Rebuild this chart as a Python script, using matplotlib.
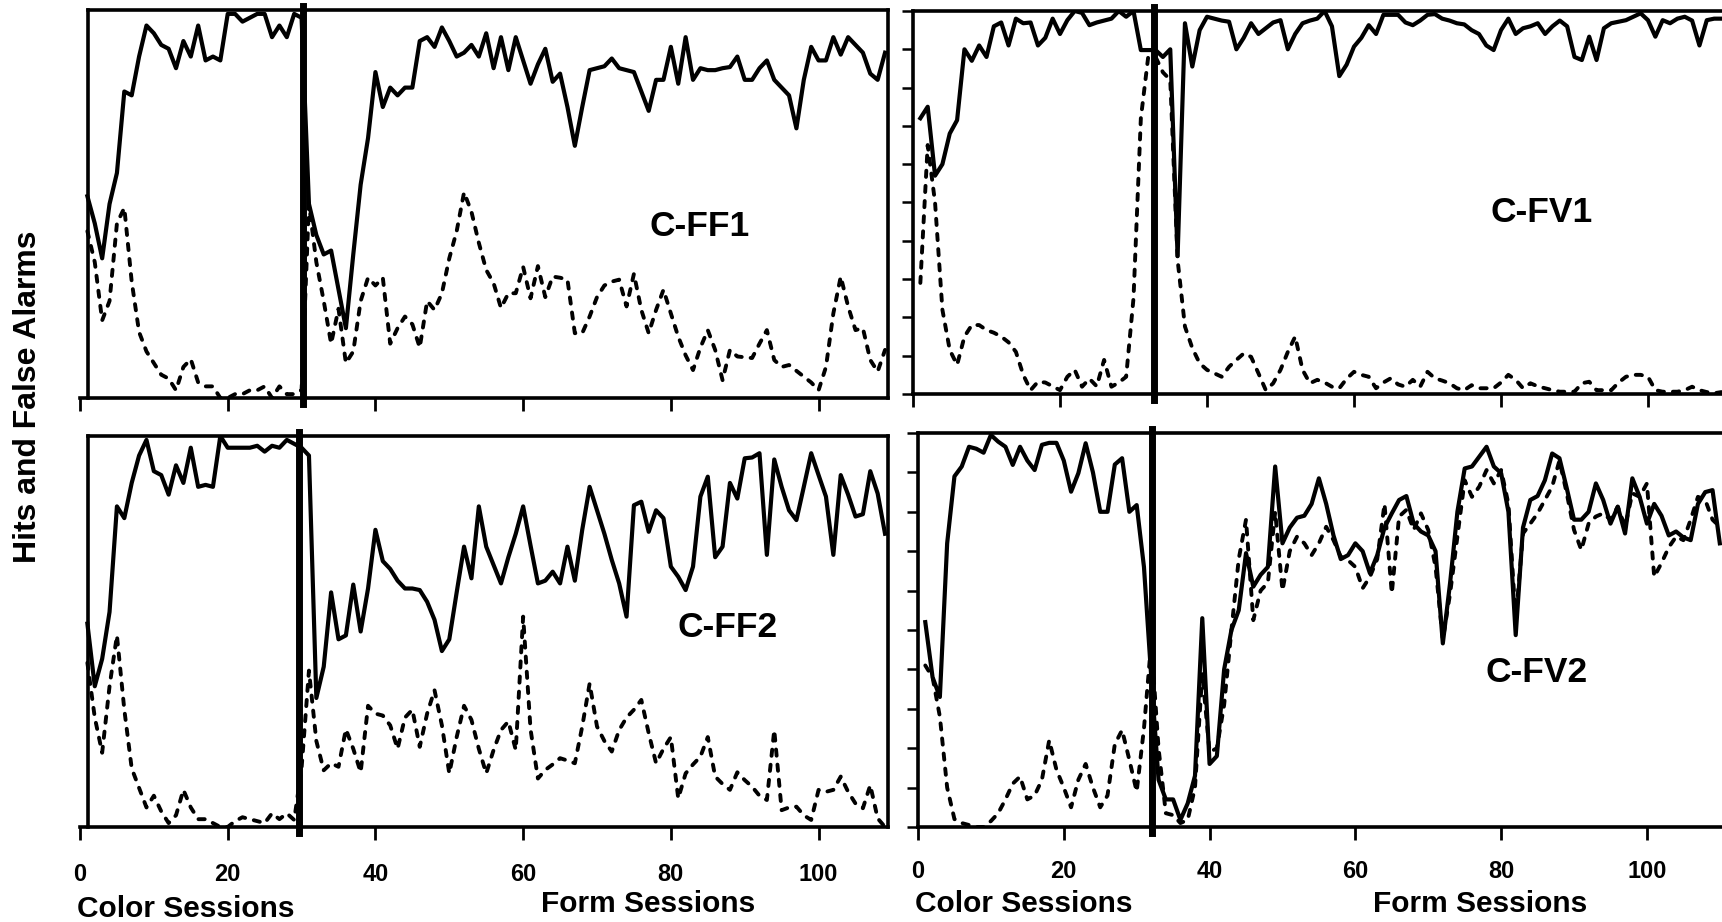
import numpy as np
import matplotlib.pyplot as plt

plt.rcParams['font.family'] = ['Liberation Sans', 'DejaVu Sans']

x_ticks = [0, 20, 40, 60, 80, 100]
y_ticks = [0.0, 0.1, 0.2, 0.3, 0.4, 0.5, 0.6, 0.7, 0.8, 0.9, 1.0]

# C-FF1 (top left), sessions 1..109
cff1_hits = [0.52, 0.45, 0.36, 0.50, 0.58, 0.79, 0.78, 0.88, 0.96, 0.94,
             0.91, 0.90, 0.85, 0.92, 0.88, 0.96, 0.87, 0.88, 0.87, 0.99,
             0.99, 0.97, 0.98, 0.99, 0.99, 0.93, 0.96, 0.93, 0.99, 0.98,
             0.50, 0.42, 0.37, 0.38, 0.28, 0.18, 0.37, 0.55, 0.67, 0.84,
             0.75, 0.80, 0.78, 0.80, 0.80, 0.92, 0.93, 0.905, 0.955, 0.92,
             0.88, 0.89, 0.91, 0.88, 0.94, 0.85, 0.93, 0.845, 0.93, 0.87,
             0.81, 0.86, 0.90, 0.815, 0.836, 0.75, 0.65, 0.75, 0.845, 0.85,
             0.855, 0.875, 0.85, 0.845, 0.84, 0.79, 0.74, 0.82, 0.82, 0.905,
             0.81, 0.93, 0.82, 0.85, 0.845, 0.845, 0.85, 0.853, 0.88, 0.82,
             0.82, 0.85, 0.87, 0.82, 0.80, 0.78, 0.695, 0.82, 0.905, 0.87,
             0.87, 0.93, 0.885, 0.93, 0.91, 0.89, 0.836, 0.82, 0.89]
cff1_fa = [0.43, 0.35, 0.20, 0.25, 0.45, 0.49, 0.30, 0.17, 0.12, 0.09,
           0.06, 0.05, 0.02, 0.08, 0.10, 0.04, 0.03, 0.03, 0.0, 0.0,
           0.01, 0.01, 0.02, 0.02, 0.03, 0.0, 0.03, 0.01, 0.01, 0.02,
           0.50, 0.35, 0.25, 0.14, 0.23, 0.09, 0.12, 0.25, 0.31, 0.29,
           0.31, 0.14, 0.18, 0.21, 0.19, 0.13, 0.25, 0.227, 0.27, 0.36,
           0.43, 0.53, 0.48, 0.40, 0.33, 0.296, 0.232, 0.27, 0.27, 0.338,
           0.257, 0.34, 0.26, 0.313, 0.31, 0.305, 0.167, 0.167, 0.21, 0.26,
           0.29, 0.30, 0.305, 0.236, 0.32, 0.227, 0.167, 0.227, 0.279, 0.218,
           0.158, 0.11, 0.072, 0.13, 0.175, 0.124, 0.046, 0.124, 0.107, 0.105,
           0.103, 0.14, 0.175, 0.098, 0.08, 0.085, 0.07, 0.055, 0.04, 0.02,
           0.08, 0.218, 0.313, 0.236, 0.175, 0.18, 0.098, 0.068, 0.124]

# C-FF2 (bottom left), sessions 1..109
cff2_hits = [0.52, 0.36, 0.43, 0.55, 0.82, 0.79, 0.88, 0.95, 0.99, 0.91,
             0.90, 0.85, 0.925, 0.88, 0.97, 0.87, 0.875, 0.87, 1.0, 0.97,
             0.97, 0.97, 0.97, 0.975, 0.96, 0.975, 0.97, 0.99, 0.98, 0.97,
             0.95, 0.33, 0.41, 0.60, 0.48, 0.49, 0.62, 0.50, 0.61, 0.76,
             0.68, 0.66, 0.63, 0.61, 0.61, 0.606, 0.576, 0.53, 0.45, 0.48,
             0.60, 0.717, 0.636, 0.82, 0.717, 0.67, 0.623, 0.69, 0.75, 0.82,
             0.72, 0.623, 0.63, 0.653, 0.623, 0.717, 0.63, 0.76, 0.87, 0.81,
             0.75, 0.683, 0.623, 0.538, 0.823, 0.832, 0.755, 0.81, 0.79, 0.666,
             0.64, 0.606, 0.666, 0.845, 0.896, 0.69, 0.717, 0.88, 0.84, 0.943,
             0.945, 0.956, 0.696, 0.94, 0.87, 0.81, 0.785, 0.87, 0.956, 0.90,
             0.845, 0.696, 0.90, 0.85, 0.794, 0.80, 0.91, 0.853, 0.75]
cff2_fa = [0.42, 0.28, 0.19, 0.36, 0.49, 0.30, 0.15, 0.10, 0.05, 0.08,
           0.04, 0.01, 0.03, 0.095, 0.05, 0.02, 0.02, 0.01, 0.0, 0.0,
           0.015, 0.025, 0.02, 0.015, 0.01, 0.035, 0.02, 0.035, 0.018, 0.15,
           0.40, 0.22, 0.145, 0.163, 0.154, 0.25, 0.20, 0.14, 0.31, 0.29,
           0.285, 0.26, 0.20, 0.28, 0.30, 0.205, 0.29, 0.35, 0.26, 0.137,
           0.23, 0.31, 0.274, 0.20, 0.137, 0.197, 0.248, 0.27, 0.197, 0.538,
           0.25, 0.124, 0.146, 0.16, 0.176, 0.17, 0.163, 0.257, 0.367, 0.257,
           0.22, 0.193, 0.248, 0.28, 0.30, 0.325, 0.24, 0.163, 0.20, 0.23,
           0.073, 0.137, 0.16, 0.18, 0.23, 0.129, 0.11, 0.095, 0.14, 0.12,
           0.103, 0.08, 0.069, 0.248, 0.043, 0.05, 0.052, 0.03, 0.018, 0.095,
           0.09, 0.095, 0.129, 0.09, 0.06, 0.048, 0.107, 0.022, 0.0]

# C-FV1 (top right), sessions 1..110
cfv1_hits = [0.72, 0.75, 0.57, 0.60, 0.68, 0.715, 0.90, 0.87, 0.91, 0.88,
             0.96, 0.97, 0.91, 0.98, 0.968, 0.97, 0.91, 0.93, 0.98, 0.94,
             0.976, 1.0, 0.995, 0.963, 0.97, 0.975, 0.98, 1.0, 0.985, 1.0,
             0.898, 0.898, 0.898, 0.88, 0.90, 0.36, 0.968, 0.855, 0.95, 0.985,
             0.98, 0.975, 0.972, 0.90, 0.93, 0.968, 0.94, 0.955, 0.97, 0.976,
             0.90, 0.94, 0.968, 0.975, 0.98, 1.0, 0.96, 0.83, 0.86, 0.907,
             0.93, 0.963, 0.94, 0.99, 0.99, 0.99, 0.97, 0.963, 0.975, 0.99,
             0.992, 0.98, 0.975, 0.968, 0.965, 0.95, 0.94, 0.91, 0.898, 0.95,
             0.98, 0.94, 0.955, 0.96, 0.968, 0.94, 0.96, 0.975, 0.96, 0.88,
             0.872, 0.933, 0.872, 0.955, 0.968, 0.972, 0.976, 0.985, 0.994, 0.976,
             0.933, 0.976, 0.968, 0.98, 0.985, 0.975, 0.91, 0.976, 0.98, 0.98]
cfv1_fa = [0.29, 0.65, 0.50, 0.22, 0.115, 0.076, 0.15, 0.18, 0.18, 0.167,
           0.16, 0.15, 0.135, 0.11, 0.05, 0.01, 0.032, 0.03, 0.02, 0.01,
           0.045, 0.063, 0.019, 0.04, 0.02, 0.089, 0.019, 0.03, 0.045, 0.25,
           0.72, 0.88, 0.88, 0.84, 0.82, 0.35, 0.176, 0.12, 0.08, 0.063,
           0.054, 0.045, 0.071, 0.089, 0.106, 0.097, 0.054, 0.01, 0.028, 0.063,
           0.11, 0.15, 0.063, 0.028, 0.037, 0.03, 0.019, 0.015, 0.04, 0.058,
           0.05, 0.045, 0.015, 0.03, 0.041, 0.025, 0.019, 0.037, 0.019, 0.058,
           0.041, 0.035, 0.028, 0.015, 0.01, 0.023, 0.015, 0.015, 0.015, 0.03,
           0.05, 0.037, 0.015, 0.028, 0.02, 0.015, 0.01, 0.006, 0.006, 0.006,
           0.028, 0.032, 0.01, 0.01, 0.01, 0.03, 0.045, 0.05, 0.05, 0.045,
           0.01, 0.006, 0.006, 0.006, 0.01, 0.019, 0.01, 0.005, 0.002, 0.005]

# C-FV2 (bottom right), sessions 1..110
cfv2_hits = [0.52, 0.38, 0.33, 0.72, 0.89, 0.915, 0.965, 0.96, 0.95, 0.995,
             0.978, 0.965, 0.919, 0.965, 0.93, 0.906, 0.97, 0.975, 0.975, 0.93,
             0.851, 0.898, 0.974, 0.90, 0.80, 0.80, 0.92, 0.936, 0.80, 0.817,
             0.66, 0.38, 0.12, 0.07, 0.07, 0.018, 0.06, 0.13, 0.53, 0.16,
             0.18, 0.40, 0.50, 0.55, 0.695, 0.61, 0.64, 0.66, 0.915, 0.72,
             0.76, 0.785, 0.79, 0.82, 0.885, 0.82, 0.74, 0.68, 0.69, 0.72,
             0.70, 0.644, 0.69, 0.76, 0.796, 0.83, 0.84, 0.77, 0.75, 0.74,
             0.70, 0.466, 0.62, 0.80, 0.91, 0.915, 0.94, 0.965, 0.915, 0.898,
             0.80, 0.487, 0.76, 0.83, 0.84, 0.88, 0.948, 0.936, 0.86, 0.78,
             0.78, 0.80, 0.872, 0.83, 0.77, 0.813, 0.745, 0.885, 0.838, 0.77,
             0.82, 0.79, 0.74, 0.75, 0.735, 0.728, 0.82, 0.85, 0.855, 0.72]
cfv2_fa = [0.41, 0.38, 0.28, 0.10, 0.02, 0.01, 0.005, 0.0, 0.0, 0.015,
           0.035, 0.07, 0.11, 0.128, 0.07, 0.08, 0.12, 0.22, 0.145, 0.10,
           0.05, 0.12, 0.16, 0.10, 0.05, 0.08, 0.21, 0.246, 0.17, 0.09,
           0.25, 0.47, 0.20, 0.035, 0.03, 0.01, 0.018, 0.10, 0.39, 0.19,
           0.20, 0.31, 0.50, 0.68, 0.78, 0.525, 0.60, 0.62, 0.80, 0.60,
           0.70, 0.737, 0.72, 0.69, 0.72, 0.762, 0.728, 0.686, 0.677, 0.66,
           0.606, 0.635, 0.68, 0.82, 0.593, 0.788, 0.805, 0.754, 0.796, 0.754,
           0.66, 0.475, 0.593, 0.737, 0.88, 0.838, 0.864, 0.906, 0.872, 0.906,
           0.82, 0.525, 0.745, 0.77, 0.796, 0.83, 0.864, 0.93, 0.847, 0.754,
           0.703, 0.77, 0.788, 0.796, 0.78, 0.813, 0.762, 0.847, 0.838, 0.872,
           0.635, 0.67, 0.71, 0.737, 0.728, 0.78, 0.838, 0.83, 0.78, 0.762]

# session where color training switched to form training
cff1_switch = 30.2
cff2_switch = 29.6
cfv1_switch = 32.8
cfv2_switch = 32.05

W, H = 1722, 922


def px_axes(fig, x0, x1, y_top, y_bot):
    return fig.add_axes([x0 / W, 1 - y_bot / H, (x1 - x0) / W, (y_bot - y_top) / H])


def draw_panel(ax, hits, fas, switch, name, name_pos, xmax, left_side, bottom_row):
    sessions = np.arange(1, len(hits) + 1)
    ax.plot(sessions, hits, color="black", linewidth=3.0)
    ax.plot(sessions, fas, color="black", linewidth=2.8,
            linestyle=(0, (1.6, 2.3)), dash_capstyle="round")
    ax.axvline(x=switch, ymin=-0.015, ymax=1.01, color="black",
               linewidth=5, clip_on=False)

    ax.set_xlim(0, xmax)
    ax.set_ylim(0, 1)
    for sp in ax.spines.values():
        sp.set_linewidth(2.6)

    ax.set_xticks(x_ticks)
    ax.tick_params(axis="x", direction="out", length=9, width=2,
                   pad=17 if left_side else 15, labelsize=17,
                   labelbottom=bottom_row)
    for lbl in ax.get_xticklabels():
        lbl.set_fontweight("bold")

    if left_side:
        ax.spines["left"].set_position(("data", 1.1))
        ax.spines["top"].set_bounds(1.1, xmax)
        ax.set_yticks([])
    else:
        ax.spines["right"].set_visible(False)
        ax.set_yticks(y_ticks)
        ax.tick_params(axis="y", direction="out", length=8, width=1.8,
                       labelleft=False)

    ax.text(name_pos[0], name_pos[1], name, transform=ax.transAxes,
            ha="center", va="center", fontsize=25.5, fontweight="bold")


def main():
    fig = plt.figure(figsize=(W / 100, H / 100), dpi=100)

    ax_tl = px_axes(fig, 80, 888, 10, 398)
    ax_bl = px_axes(fig, 80, 888, 436, 827)
    ax_tr = px_axes(fig, 913, 1721.5, 11, 394)
    ax_br = px_axes(fig, 918, 1722, 433, 827)

    draw_panel(ax_tl, cff1_hits, cff1_fa, cff1_switch, "C-FF1", (0.767, 0.443),
               109.4, True, False)
    draw_panel(ax_bl, cff2_hits, cff2_fa, cff2_switch, "C-FF2", (0.802, 0.509),
               109.4, True, True)
    draw_panel(ax_tr, cfv1_hits, cfv1_fa, cfv1_switch, "C-FV1", (0.777, 0.473),
               110.0, False, False)
    draw_panel(ax_br, cfv2_hits, cfv2_fa, cfv2_switch, "C-FV2", (0.769, 0.393),
               110.3, False, True)

    label_kw = dict(fontsize=21.5, fontweight="bold", ha="left", va="baseline")
    fig.text(77 / W, 1 - 917 / H, "Color Sessions", **label_kw)
    fig.text(541 / W, 1 - 912 / H, "Form Sessions", **label_kw)
    fig.text(915 / W, 1 - 912 / H, "Color Sessions", **label_kw)
    fig.text(1373 / W, 1 - 912 / H, "Form Sessions", **label_kw)

    fig.text(28 / W, 1 - 397 / H, "Hits and False Alarms", rotation=90,
             fontsize=23, fontweight="bold", ha="center", va="center")

    fig.savefig("out.png", dpi=100)


if __name__ == "__main__":
    main()
